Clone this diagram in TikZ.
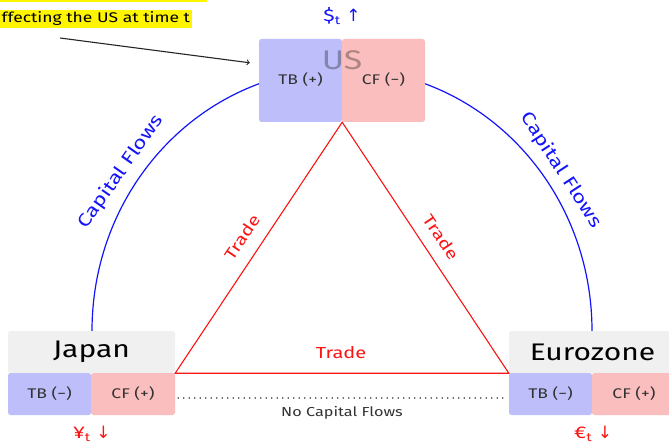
\documentclass[tikz,border=0pt]{standalone}
\usepackage{fontspec}
\setmainfont{Fira Sans}[FakeStretch=1.25]
\newfontfamily\arrowfont{DejaVu Sans}
\usetikzlibrary{calc}
\definecolor{tbblue}{RGB}{190,190,250}
\definecolor{cfred}{RGB}{250,190,190}
\definecolor{hdrgrey}{RGB}{240,240,240}
\definecolor{boxtext}{RGB}{50,50,50}
\definecolor{hiyellow}{RGB}{255,245,0}
\definecolor{cfblue}{RGB}{20,20,250}
\definecolor{trred}{RGB}{250,20,20}
\begin{document}
\begin{tikzpicture}[x=1pt,y=-1pt,
  subbox/.style={rectangle, rounded corners=2.5pt, inner sep=0pt, minimum width=83pt, minimum height=42pt, text=boxtext, font=\fontsize{14}{16}\selectfont},
  tbbox/.style={subbox, fill=tbblue},
  cfbox/.style={subbox, fill=cfred},
  hdrbox/.style={rectangle, rounded corners=2.5pt, inner sep=0pt, minimum width=167pt, minimum height=42pt, fill=hdrgrey, font=\fontsize{24}{26}\selectfont},
  flowlbl/.style={text=cfblue, font=\fontsize{18}{20}\selectfont},
  tradelbl/.style={text=trred, font=\fontsize{16}{18}\selectfont},
  curlbl/.style={font=\fontsize{17}{19}\selectfont}
]
\useasboundingbox (0,0) rectangle (669,446);
\fill[white] (0,0) rectangle (669,446);

% capital flow arcs (drawn first, boxes cover them)
\coordinate (arctop) at (342,69);
\coordinate (jtop) at (92,331);
\coordinate (etop) at (592,331);
\draw[cfblue, line width=1.2pt] (jtop) .. controls (92,186) and (204,69) .. (arctop)
  .. controls (480,69) and (592,186) .. (etop);

% US
\node[tbbox, minimum height=83pt] (ustb) at (300.5,80.5) {};
\node[cfbox, minimum height=83pt] (uscf) at (383.5,80.5) {};
\node[text=boxtext] at ($(ustb.center)+(0,-1)$) {\fontsize{14}{16}\selectfont TB (+)};
\node[text=boxtext] at ($(uscf.center)+(0,-1)$) {\fontsize{14}{16}\selectfont CF (−)};
\node[text=black, opacity=0.3, font=\fontsize{27}{30}\selectfont] (uslbl) at (342,60) {US};
\node[text=cfblue, curlbl] (usd) at (342,16) {\$\textsubscript{t} {\arrowfont ↑}};

% Japan
\node[hdrbox] (jh) at (91.5,352) {Japan};
\node[tbbox] (jtb) at (49.5,394) {TB (−)};
\node[cfbox, minimum width=84pt] (jcf) at (133,394) {CF (+)};
\node[text=trred, curlbl] (jyen) at (92,434) {¥\textsubscript{t} {\arrowfont ↓}};

% Eurozone
\node[hdrbox] (eh) at (592.5,352) {Eurozone};
\node[tbbox] (etb) at (550.5,394) {TB (−)};
\node[cfbox, minimum width=84pt] (ecf) at (634,394) {CF (+)};
\node[text=trred, curlbl] (eeur) at (593,434) {€\textsubscript{t} {\arrowfont ↓}};

% trade triangle
\draw[trred, line width=1.1pt, line join=miter] (ustb.south east) -- (eh.south west) -- (jh.south east) -- cycle;
\node[tradelbl, rotate=56] (tl) at (242,237) {Trade};
\node[tradelbl, rotate=-56] (tr) at (441,237) {Trade};
\node[tradelbl] (tb) at (341,353) {Trade};

% capital flows labels
\node[flowlbl, rotate=55] (cfl) at (121,172) {Capital Flows};
\node[flowlbl, rotate=-57] (cfr) at (561,170) {Capital Flows};

% no capital flows
\draw[line width=1.6pt, line cap=round, dash pattern=on 0pt off 5.5pt, black!75] ($(jcf.east)+(3,4)$) -- ($(etb.west)+(-2,4)$);
\node[text=boxtext, font=\fontsize{13}{15}\selectfont] (ncf) at (342,413) {No Capital Flows};

% annotation
\fill[hiyellow] (0,0) rectangle (207,2.5);
\node[anchor=west, fill=hiyellow, inner sep=1.5pt, text=black, font=\fontsize{14}{16}\selectfont, minimum height=18pt] (note) at (0,19) {ffecting the US at time t};
\coordinate (arrowstart) at (60,38);
\draw[->, line width=1.1pt, black!85] (arrowstart) -- ($(ustb.north west)+(-9,24)$);
\end{tikzpicture}
\end{document}
